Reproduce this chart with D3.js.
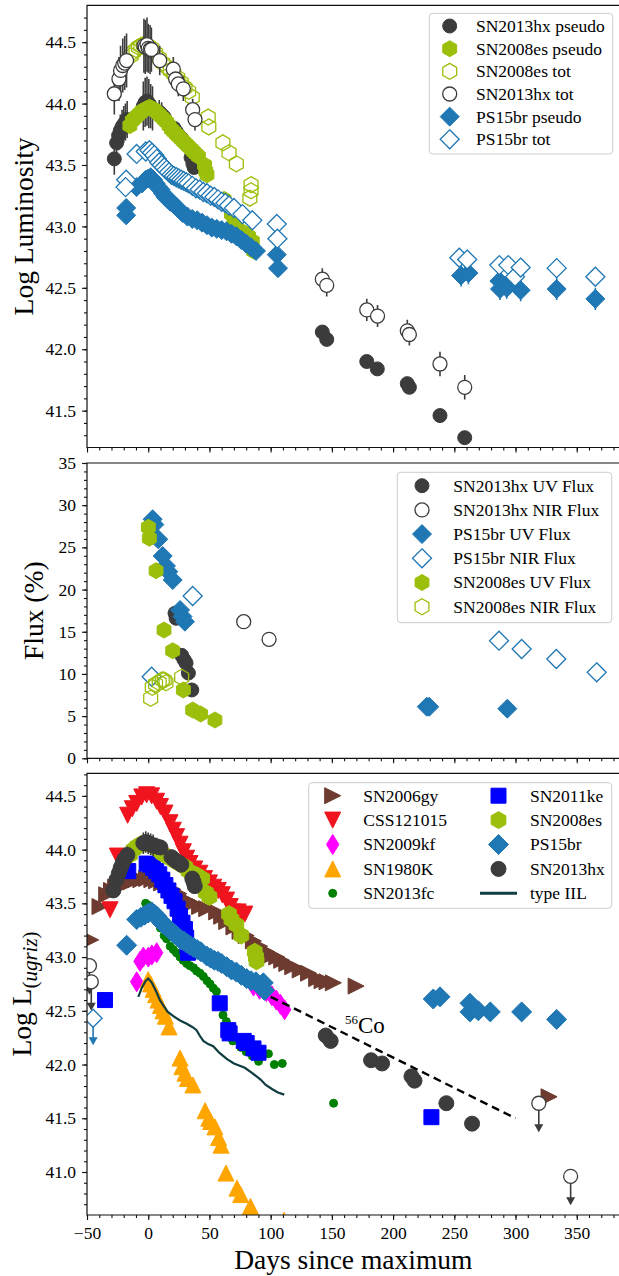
<!DOCTYPE html>
<html><head><meta charset="utf-8">
<script src="https://cdn.jsdelivr.net/npm/d3@7"></script>
<style>
html,body{margin:0;padding:0;background:#fff;}
svg{display:block;}
svg text{font-family:"Liberation Serif","Times New Roman",serif;fill:#000;}
</style></head><body>
<svg id="chart" width="619" height="1276" font-family="Liberation Serif, serif"></svg>
<script>
// ---------- data: [days since maximum, value, (error)] ----------
const xMajorTicks = [-50, 0, 50, 100, 150, 200, 250, 300, 350];

// top panel: log luminosity, pseudo-bolometric vs total
const hxPseudo = [[-27.7,43.55,0.13],[-25.8,43.68,0.12],[-24.2,43.74,0.12],[-22.8,43.78,0.13],[-21.4,43.81,0.14],[-20,43.83,0.15],[-18.6,43.85,0.15],[-17.2,43.87,0.15],
  [-4,43.98,0.2],[-2.5,44.01,0.2],[-1,44.02,0.2],[0.5,44.0,0.2],[2,43.98,0.18],[3.5,43.96,0.18],[9,43.93,0.1],[11,43.91,0.1],[13,43.89,0.08],
  [21,43.8,0.06],[23,43.77,0.06],[25,43.74,0.06],[27,43.72,0.06],[29,43.69,0.06],[35,43.56,0.05],[36.5,43.51,0.05],[37.5,43.48,0.05],
  [142.2,42.14,0.03],[145.8,42.08,0.03],[178.5,41.9,0.03],[187.1,41.84,0.03],[211.6,41.72,0.03],[213.3,41.69,0.03],[238.3,41.46,0.03],[258.5,41.28,0.03]];
const hxTot = [[-27.7,44.08,0.17],[-23.9,44.2,0.18],[-22.6,44.27,0.2],[-20.8,44.31,0.22],[-19.2,44.33,0.22],[-17.7,44.35,0.22],
  [-3.5,44.47,0.22],[-2.4,44.46,0.22],[-1,44.48,0.22],[0,44.45,0.2],[1.5,44.44,0.2],[2.6,44.44,0.18],[9.4,44.35,0.12],
  [20.5,44.28,0.1],[22.4,44.2,0.1],[24.6,44.16,0.1],[28.7,44.12,0.1],[36.3,43.95,0.09],[38.2,43.87,0.09],
  [142.2,42.57,0.09],[145.8,42.52,0.09],[178.5,42.32,0.09],[187.3,42.27,0.09],[211.6,42.15,0.09],[213.3,42.12,0.09],[238.3,41.88,0.1],[258.5,41.69,0.1]];
const esPseudo = [[-15,43.82],[-13,43.86],[-11,43.88],[-9,43.9],[-7,43.92],[-5,43.94],[-3,43.95],[-1,43.96],[1,43.97],[3,43.96],[5,43.95],[7,43.93],[9,43.91],
  [11,43.89],[13,43.87],[15,43.85],[17,43.82],[19,43.79],[21,43.77],[23,43.75],[25,43.73],[27,43.71],[29,43.69],[31,43.67],[33,43.65],[35,43.63],
  [37,43.61],[39,43.59],[41,43.57],[46,43.5],[47,43.45],[48,43.42],[62,43.22],[65,43.17],[68,43.1],[70,43.05],[72,43.0],[78,42.95],[82,42.92],[85,42.88],[86,42.8]];
const esTot = [[-14,44.39],[-12,44.42],[-10,44.44],[-8,44.46],[-6,44.47],[-4,44.48],[-2,44.48],[0,44.47],[3,44.45],[6,44.41],[9,44.37],[12,44.33],
  [15,44.3],[18,44.27],[21,44.24],[24,44.21],[27,44.17],[30,44.13],[33,44.1],[36,44.05],[49,43.89],[49.5,43.81],[61,43.68],[66,43.6],[72,43.51],
  [84,43.34],[84,43.29],[83,43.23]];
const psPseudo = [[-18,43.15,0],[-18,43.09,0],[-9.5,43.32,0],[-5,43.35,0],[-2,43.38,0],[0,43.39,0],[2,43.4,0],[4,43.38,0],[6,43.35,0],[8,43.32,0],
  [10,43.3,0],[12,43.27,0],[14,43.24,0],[16,43.22,0],[18,43.2,0],[20,43.19,0],[24,43.15,0],[28,43.11,0],[32,43.08,0],[36,43.06,0],[40,43.05,0],
  [44,43.03,0],[48,43.01,0],[52,42.99,0],[56,42.98,0],[60,42.97,0],[64,42.96,0],[68,42.94,0],[72,42.92,0],[76,42.89,0],[80,42.86,0],[84,42.83,0],
  [88,42.8,0],[105,42.77,0],[106,42.66,0],
  [255.5,42.6,0.09],[261.5,42.62,0.09],[286.8,42.555,0.09],[287.3,42.49,0.09],[292.8,42.5,0.09],[304.2,42.48,0.09],[333.6,42.49,0.09],[365.2,42.41,0.09]];
const psTot = [[-18,43.38,0],[-18.5,43.32,0],[-9.5,43.59,0],[-2,43.61,0],[1,43.62,0],[3,43.6,0],[5,43.58,0],[7,43.55,0],[9,43.52,0],[11,43.5,0],
  [13,43.48,0],[15,43.46,0],[17,43.44,0],[19,43.42,0],[21,43.41,0],[23,43.4,0],[25,43.39,0],[27,43.38,0],[29,43.37,0],[31,43.36,0],[33,43.35,0],
  [36,43.33,0],[39,43.31,0],[42,43.3,0],[45,43.28,0],[48,43.27,0],[51,43.25,0],[54,43.24,0],[57,43.22,0],[60,43.2,0],[63,43.19,0],[66,43.17,0],
  [70,43.15,0],[77,43.1,0],[85,43.05,0],[105,43.02,0],[105.5,42.9,0],
  [254.1,42.745,0.075],[260.5,42.73,0.075],[286.8,42.685,0.075],[294.1,42.685,0.075],[299.6,42.59,0.075],[304.2,42.665,0.075],[333.6,42.66,0.075],[365.2,42.59,0.075]];

// middle panel: UV and NIR flux fraction (%)
const hxUV = [[21.9,17.2],[22.8,16.6],[27.3,12.2],[29.2,11.7],[30.9,11.3],[32.8,10.1],[35.6,8.1]];
const hxNIR = [[78,16.19],[98.7,14.1]];
const psUV = [[3.6,28.33],[5,27.7],[8.2,25.96],[11.8,23.98],[14.5,22.8],[16.4,22.12],[20,21.13],[26,17.58],[28,16.8],[30,16.19],[227.5,6.12],[229.5,6.1],[293.3,5.88]];
const psNIR = [[2.8,9.67],[36.3,19.24],[286.5,13.94],[305,12.95],[333.3,11.77],[366.3,10.19]];
const esUV = [[0.1,27.38],[0.9,26.08],[6.4,22.24],[12.9,15.2],[20,12.75],[28.7,8.1],[36.3,5.72],[42.8,5.25],[54.5,4.54]];
const esNIR = [[2,7.11],[3.3,8.41],[6,8.8],[9,8.96],[11.5,9.3],[13.1,9.28],[14.5,8.96],[27.3,9.6]];

// bottom panel: log L(ugriz) comparison sample
const sn2006gy = [[-47,43.16],[-39.4,43.47],[-33.9,43.58],[-30,43.62],[-26.6,43.65],[-22,43.67],[-18.4,43.68],[-14,43.7],[-10.2,43.72],[-6,43.72],
  [-1.3,43.73],[3,43.72],[6.9,43.71],[11,43.69],[15,43.67],[20,43.63],[25,43.59],[31.4,43.53],[36,43.5],[42,43.47],[47.8,43.45],[55.9,43.42],
  [60,43.38],[64.1,43.33],[70,43.28],[75,43.24],[80,43.2],[85.9,43.15],[91,43.1],[96.8,43.05],[101,43.02],[105,43.0],[109,42.97],[113.2,42.94],
  [118,42.91],[124.1,42.88],[130.9,42.85],[137.6,42.8],[142,42.78],[146,42.77],[151.2,42.76],[169.8,42.73],[327.4,41.70]];
const css121015 = [[-31.2,43.44],[-25.2,43.94],[-16.8,44.32],[-13,44.38],[-9.4,44.43],[-5.3,44.49],[-1.3,44.51],[2.8,44.5],[6.9,44.45],[10,44.4],
  [13.7,44.34],[17.8,44.25],[20.5,44.18],[23.2,44.12],[26,44.05],[28.7,43.98],[31.4,43.92],[34.1,43.87],[38,43.82],[42.2,43.78],[46,43.73],
  [50,43.69],[53.5,43.65],[57.2,43.62],[60.5,43.58],[64,43.53],[67,43.47],[69.4,43.42],[73.5,43.42],[74.8,43.37],[78.9,43.4]];
const sn2009kf = [[-9.4,42.77],[-6.7,42.96],[-4,43.0],[0.1,43.0],[3,43.02],[6.9,43.04],[86,42.73],[91,42.7],[96.5,42.68],[101,42.64],[104.6,42.6],[108,42.56],[111.4,42.51]];
const sn1980k = [[0,42.79],[2,42.75],[4,42.7],[6,42.65],[8,42.6],[10,42.55],[12,42.5],[14,42.45],[17,42.35],[26,42.06],[27.5,41.98],[30,41.92],
  [32,41.87],[36.5,41.81],[46.5,41.57],[49.5,41.5],[51,41.47],[54.5,41.42],[57.5,41.32],[59.5,41.25],[63.5,40.99],[72.5,40.85],[75.5,40.79],[83.5,40.68],[111,40.55]];
const sn2013fc = [[-2.1,43.5],[0.5,43.48],[2.8,43.45],[5,43.4],[8,43.33],[10,43.27],[13,43.2],[15,43.17],[18,43.1],[20.5,43.07],[23,43.04],[26,43.0],
  [28.5,42.97],[31.4,42.94],[34,42.92],[37,42.9],[39.5,42.87],[42.3,42.85],[45,42.82],[48,42.78],[50.5,42.75],[53.2,42.71],[55.7,42.68],[61.1,42.46],
  [63.8,42.4],[68.1,42.29],[69.1,42.22],[75.6,42.16],[80,42.12],[85,42.08],[90.1,42.03],[98.2,42.1],[103,42.0],[109.5,42.01],[151.4,41.64]];
const sn2011ke = [[-35.3,42.6],[-16.3,43.8],[-1.3,43.87],[1.5,43.86],[4,43.83],[6.5,43.8],[9,43.77],[11.5,43.72],[14,43.67],[16.5,43.62],[19,43.57],
  [21.5,43.52],[24,43.45],[26,43.38],[28,43.32],[30,43.26],[31,43.18],[32,43.1],[32.5,43.04],[58.4,42.57],[65.4,42.32],[66.5,42.29],[78,42.22],
  [80.4,42.2],[86,42.15],[90.1,42.11],[231.3,41.51]];
const sn2008es = [[-15,43.95],[-12,44.0],[-9,44.03],[-6,44.05],[-3,44.06],[0,44.06],[3,44.04],[6,44.02],[9,43.99],[12,43.96],[15,43.94],[18,43.92],
  [21,43.9],[24,43.88],[27,43.86],[30,43.84],[33,43.8],[36,43.78],[40,43.76],[44,43.73],[47,43.6],[50,43.56],[66,43.4],[68,43.35],[72,43.3],
  [76,43.2],[87,43.05],[88,43.0],[88.5,42.96]];
const ps15br = [[-17.6,43.11],[-9.4,43.35],[-6,43.37],[-3,43.39],[0,43.41],[2.8,43.42],[5,43.4],[7,43.38],[9,43.35],[11,43.32],[13,43.3],[15,43.28],
  [17,43.26],[19,43.24],[21,43.22],[23,43.2],[25,43.18],[27,43.16],[29,43.15],[31.4,43.13],[34,43.11],[37,43.09],[40,43.07],[43,43.05],[47.8,43.01],
  [51,42.99],[54,42.97],[57,42.96],[60,42.94],[64.1,42.91],[68,42.88],[72,42.86],[76,42.83],[80.4,42.8],[84,42.78],[88,42.77],[94,42.76],[95,42.69],
  [232.8,42.61],[238.3,42.63],[262.8,42.57],[262.8,42.49],[269.6,42.5],[279.4,42.49],[305,42.49],[333.6,42.42]];
const sn2013hx = [[-28.5,43.62,0.06],[-26,43.72,0.06],[-24,43.78,0.07],[-22.5,43.83,0.07],[-21,43.87,0.08],[-19.5,43.91,0.08],[-17,43.95,0.08],
  [-4,44.06,0.1],[-2,44.07,0.1],[0,44.06,0.1],[2,44.05,0.1],[4,44.04,0.1],[7,44.03,0.08],[10,44.02,0.06],[19,43.93,0.05],[21,43.91,0.05],
  [23,43.89,0.05],[25,43.88,0.05],[27,43.86,0.05],[36,43.73,0.05],[37,43.7,0.05],[38,43.66,0.05],
  [145,42.27,0.02],[149,42.22,0.02],[182,42.04,0.02],[191,42.01,0.02],[215,41.89,0.02],[217.5,41.85,0.02],[243.5,41.64,0.02],[264.5,41.45,0.02]];
const sn2013hxLimits = [[-48,42.92],[-46.5,42.77],[319,41.64],[345,40.96]];
const ps15brLimits = [[-45,42.43]];
const typeIIL = [[-8.1,42.63],[-5,42.72],[-2,42.78],[0.1,42.8],[3,42.76],[6.9,42.67],[9.5,42.6],[12.3,42.55],[16,42.49],[20.5,42.45],[26,42.41],
  [31.4,42.38],[36,42.35],[39.5,42.32],[42,42.27],[45,42.22],[49,42.19],[53.1,42.17],[58,42.11],[64.4,42.05],[70,42.01],[78.9,41.97],[85,41.92],
  [91.8,41.86],[96,41.81],[101.4,41.77],[106,41.74],[111.1,41.72]];
const co56Days = [100, 300];
const co56Lum = [42.63, 41.50];

// ---------- layout ----------
const svg = d3.select("#chart");
const X0 = 87, X1 = 619.6;
const x = d3.scaleLinear().domain([-50, 385]).range([X0, X1]);

const DARK = "#3c3c3c", GREEN = "#9bbf0a", BLUE = "#1f77b4";
const SERIF = '"Liberation Serif", "Times New Roman", serif';
const FONT_TICK = 17.5, FONT_LABEL = 27.5, FONT_LEG = 17.5;

function markerPath(shape, s) {
  switch (shape) {
    case "o": return `M${-s},0A${s},${s} 0 1,0 ${s},0A${s},${s} 0 1,0 ${-s},0Z`;
    case "h": {
      const pts = d3.range(6).map(k => { const a = (-90 + 60 * k) * Math.PI / 180; return [s * Math.cos(a), s * Math.sin(a)]; });
      return "M" + pts.map(p => p.join(",")).join("L") + "Z";
    }
    case "D": return `M0,${-s}L${s},0L0,${s}L${-s},0Z`;
    case "d": { const w = s * 0.62; return `M0,${-s}L${w},0L0,${s}L${-w},0Z`; }
    case "s": return `M${-s},${-s}H${s}V${s}H${-s}Z`;
    case "^": return `M0,${-s}L${s},${s}L${-s},${s}Z`;
    case "v": return `M0,${s}L${s},${-s}L${-s},${-s}Z`;
    case ">": return `M${s},0L${-s},${s}L${-s},${-s}Z`;
  }
}

function drawSeries(g, y, data, st) {
  if (st.err) {
    g.append("g").selectAll("line").data(data.filter(d => d[2] > 0)).join("line")
      .attr("x1", d => x(d[0])).attr("x2", d => x(d[0]))
      .attr("y1", d => y(d[1] - d[2])).attr("y2", d => y(d[1] + d[2]))
      .attr("stroke", st.err).attr("stroke-width", 1.6);
  }
  g.append("g").selectAll("path").data(data).join("path")
    .attr("d", markerPath(st.shape, st.size))
    .attr("transform", d => `translate(${x(d[0])},${y(d[1])})`)
    .attr("fill", st.fill).attr("stroke", st.stroke).attr("stroke-width", st.sw || 1);
}

function drawLimits(g, y, data, color, st, len) {
  const lg = g.append("g");
  data.forEach(d => {
    const px = x(d[0]), y0 = y(d[1]), y1 = y(d[1] - len);
    lg.append("line").attr("x1", px).attr("x2", px).attr("y1", y0).attr("y2", y1 - 2)
      .attr("stroke", color).attr("stroke-width", 1.6);
    lg.append("path").attr("d", `M${px - 4.5},${y1 - 8}L${px + 4.5},${y1 - 8}L${px},${y1}Z`).attr("fill", color);
  });
  drawSeries(g, y, data, st);
}

function addText(parent, size) {
  return parent.append("text").attr("font-family", SERIF).attr("font-size", size).attr("fill", "#000");
}

function makePanel(p) {
  const y = d3.scaleLinear().domain(p.domain).range([p.bottom, p.top]);
  const root = svg.append("g");
  const clipId = "clip-" + p.id;
  svg.append("clipPath").attr("id", clipId).append("rect")
    .attr("x", X0).attr("y", p.top).attr("width", X1 - X0).attr("height", p.bottom - p.top);
  const plot = root.append("g").attr("clip-path", `url(#${clipId})`);

  // axes: major and minor ticks outward on the left and bottom
  const ax = root.append("g");
  ax.append("g").attr("transform", `translate(${X0},0)`)
    .call(d3.axisLeft(y).tickValues(p.minor).tickSize(3).tickFormat(""));
  ax.append("g").attr("transform", `translate(${X0},0)`)
    .call(d3.axisLeft(y).tickValues(p.major).tickSize(5).tickPadding(6).tickFormat(p.fmt));
  const xMinor = d3.range(-50, 386, 10);
  ax.append("g").attr("transform", `translate(0,${p.bottom})`)
    .call(d3.axisBottom(x).tickValues(xMinor).tickSize(3).tickFormat(""));
  ax.append("g").attr("transform", `translate(0,${p.bottom})`)
    .call(d3.axisBottom(x).tickValues(xMajorTicks).tickSize(5).tickPadding(7)
      .tickFormat(p.xLabels ? (d => d < 0 ? "\u2212" + Math.abs(d) : String(d)) : ""));
  ax.selectAll(".domain").remove();
  ax.selectAll("g").attr("font-family", SERIF);
  ax.selectAll(".tick line").attr("stroke", "#111").attr("stroke-width", 1.1);
  ax.selectAll(".tick text").attr("font-size", FONT_TICK).attr("fill", "#111").attr("font-family", SERIF);

  // spines
  const sp = root.append("g").attr("stroke", "#111").attr("stroke-width", 1.2).attr("fill", "none");
  sp.append("path").attr("d", `M${X1 + 1},${p.top}H${X0}V${p.bottom}H${X1 + 1}`);
  return { y, plot, root };
}

function legendBox(g, x0, y0, x1, y1) {
  g.append("rect").attr("x", x0).attr("y", y0).attr("width", x1 - x0).attr("height", y1 - y0)
    .attr("rx", 3.5).attr("fill", "#fff").attr("fill-opacity", 0.8).attr("stroke", "#cccccc").attr("stroke-width", 1);
}
function legendItem(g, mx, tx, cy, label, st) {
  if (st.line) {
    g.append("line").attr("x1", mx - 18.5).attr("x2", mx + 18.5).attr("y1", cy).attr("y2", cy)
      .attr("stroke", st.line).attr("stroke-width", 3);
  } else {
    g.append("path").attr("d", markerPath(st.shape, st.size)).attr("transform", `translate(${mx},${cy})`)
      .attr("fill", st.fill).attr("stroke", st.stroke).attr("stroke-width", st.sw || 1);
  }
  addText(g, FONT_LEG).attr("x", tx).attr("y", cy).attr("dy", "0.34em").text(label);
}

// ---------- styles ----------
const S = {
  hxFill:  { shape: "o", size: 7, fill: DARK, stroke: DARK, err: DARK },
  hxOpen:  { shape: "o", size: 7, fill: "#fff", stroke: DARK, sw: 1.3, err: DARK },
  esFill:  { shape: "h", size: 8, fill: GREEN, stroke: GREEN },
  esOpen:  { shape: "h", size: 8, fill: "none", stroke: GREEN, sw: 1.3 },
  psFill:  { shape: "D", size: 9.5, fill: BLUE, stroke: BLUE, err: BLUE },
  psOpen:  { shape: "D", size: 9.5, fill: "#fff", stroke: BLUE, sw: 1.3, err: BLUE },
};

// ---------- panel 1: log luminosity ----------
const P1 = makePanel({ id: "p1", top: 5.3, bottom: 447.5, domain: [41.2, 44.8],
  major: d3.range(83, 90).map(v => v / 2), minor: d3.range(413, 448).map(v => v / 10), fmt: d3.format(".1f") });
drawSeries(P1.plot, P1.y, hxPseudo, S.hxFill);
drawSeries(P1.plot, P1.y, esPseudo, S.esFill);
drawSeries(P1.plot, P1.y, esTot, S.esOpen);
drawSeries(P1.plot, P1.y, hxTot, S.hxOpen);
drawSeries(P1.plot, P1.y, psPseudo, S.psFill);
drawSeries(P1.plot, P1.y, psTot, S.psOpen);

const lg1 = svg.append("g");
legendBox(lg1, 429.3, 13.3, 612.7, 154);
[["SN2013hx pseudo", S.hxFill], ["SN2008es pseudo", S.esFill], ["SN2008es tot", S.esOpen],
 ["SN2013hx tot", S.hxOpen], ["PS15br pseudo", S.psFill], ["PS15br tot", S.psOpen]]
  .forEach((e, i) => legendItem(lg1, 449.7, 476, 26 + i * 22.66, e[0], e[1]));

addText(svg, FONT_LABEL).attr("transform", `translate(32.5,226.4) rotate(-90)`).attr("text-anchor", "middle")
  .text("Log Luminosity");

// ---------- panel 2: flux fraction ----------
const P2 = makePanel({ id: "p2", top: 463, bottom: 758.3, domain: [0, 35],
  major: d3.range(0, 36, 5), minor: d3.range(0, 36, 1), fmt: d3.format("d") });
drawSeries(P2.plot, P2.y, hxUV, S.hxFill);
drawSeries(P2.plot, P2.y, hxNIR, S.hxOpen);
drawSeries(P2.plot, P2.y, psUV, S.psFill);
drawSeries(P2.plot, P2.y, psNIR, S.psOpen);
drawSeries(P2.plot, P2.y, esUV, S.esFill);
drawSeries(P2.plot, P2.y, esNIR, S.esOpen);

const lg2 = svg.append("g");
legendBox(lg2, 397.3, 472.3, 611.7, 622.7);
[["SN2013hx UV Flux", S.hxFill], ["SN2013hx NIR Flux", S.hxOpen], ["PS15br UV Flux", S.psFill],
 ["PS15br NIR Flux", S.psOpen], ["SN2008es UV Flux", S.esFill], ["SN2008es NIR Flux", S.esOpen]]
  .forEach((e, i) => legendItem(lg2, 422, 453.3, 485.7 + i * 24.2, e[0], e[1]));

addText(svg, FONT_LABEL).attr("transform", `translate(43,610.7) rotate(-90)`).attr("text-anchor", "middle")
  .text("Flux (%)");

// ---------- panel 3: ugriz luminosity comparison ----------
const P3 = makePanel({ id: "p3", top: 773.3, bottom: 1215, domain: [40.6, 44.71], xLabels: true,
  major: d3.range(82, 90).map(v => v / 2), minor: d3.range(407, 448).map(v => v / 10), fmt: d3.format(".1f") });
const C = {
  gy:  { shape: ">", size: 8, fill: "#6d3b2f", stroke: "#6d3b2f" },
  css: { shape: "v", size: 8, fill: "#f0141e", stroke: "#f0141e" },
  kf:  { shape: "d", size: 10, fill: "#ff00ff", stroke: "#ff00ff" },
  k80: { shape: "^", size: 8, fill: "#ffa500", stroke: "#ffa500" },
  fc:  { shape: "o", size: 4, fill: "#008000", stroke: "#008000" },
  ke:  { shape: "s", size: 7.5, fill: "#0000ff", stroke: "#0000ff" },
  es:  { shape: "h", size: 8.5, fill: GREEN, stroke: GREEN },
  ps:  { shape: "D", size: 10, fill: BLUE, stroke: BLUE },
  hx:  { shape: "o", size: 7.5, fill: DARK, stroke: DARK, err: DARK },
  iil: { line: "#0f3d40" },
};
drawSeries(P3.plot, P3.y, sn2006gy, C.gy);
drawSeries(P3.plot, P3.y, css121015, C.css);
drawSeries(P3.plot, P3.y, sn2009kf, C.kf);
drawSeries(P3.plot, P3.y, sn1980k, C.k80);
drawSeries(P3.plot, P3.y, sn2013fc, C.fc);
drawSeries(P3.plot, P3.y, sn2011ke, C.ke);
drawSeries(P3.plot, P3.y, sn2008es, C.es);
drawSeries(P3.plot, P3.y, ps15br, C.ps);
drawSeries(P3.plot, P3.y, sn2013hx, C.hx);
drawLimits(P3.plot, P3.y, sn2013hxLimits, DARK, { shape: "o", size: 7, fill: "#fff", stroke: DARK, sw: 1.3 }, 0.27);
drawLimits(P3.plot, P3.y, ps15brLimits, BLUE, { shape: "D", size: 9, fill: "#fff", stroke: BLUE, sw: 1.3 }, 0.25);

P3.plot.append("path").datum(typeIIL)
  .attr("d", d3.line().x(d => x(d[0])).y(d => P3.y(d[1])))
  .attr("fill", "none").attr("stroke", C.iil.line).attr("stroke-width", 2.2);

P3.plot.append("path").datum(d3.zip(co56Days, co56Lum))
  .attr("d", d3.line().x(d => x(d[0])).y(d => P3.y(d[1])))
  .attr("fill", "none").attr("stroke", "#000").attr("stroke-width", 2.4).attr("stroke-dasharray", "8,5");

const coLabel = addText(svg, 23).attr("x", x(160.7)).attr("y", P3.y(42.296));
coLabel.append("tspan").attr("font-size", 13).attr("dy", -9).text("56");
coLabel.append("tspan").attr("dy", 9).text("Co");

const lg3 = svg.append("g");
legendBox(lg3, 308.7, 782.7, 611.7, 908.3);
[["SN2006gy", C.gy], ["CSS121015", C.css], ["SN2009kf", C.kf], ["SN1980K", C.k80], ["SN2013fc", C.fc]]
  .forEach((e, i) => legendItem(lg3, 332.7, 363.3, 795.7 + i * 24.4, e[0], e[1]));
[["SN2011ke", C.ke], ["SN2008es", C.es], ["PS15br", C.ps], ["SN2013hx", C.hx], ["type IIL", C.iil]]
  .forEach((e, i) => legendItem(lg3, 498.5, 530, 795.7 + i * 24.4, e[0], e[1]));

const yl3 = addText(svg, FONT_LABEL).attr("transform", `translate(31,994) rotate(-90)`).attr("text-anchor", "middle");
yl3.append("tspan").text("Log L");
yl3.append("tspan").attr("font-size", 21).attr("dy", 6).text("(");
yl3.append("tspan").attr("font-size", 21).attr("font-style", "italic").text("ugriz");
yl3.append("tspan").attr("font-size", 21).text(")");

addText(svg, FONT_LABEL).attr("x", (X0 + X1) / 2).attr("y", 1269).attr("text-anchor", "middle")
  .text("Days since maximum");
</script>
</body></html>
